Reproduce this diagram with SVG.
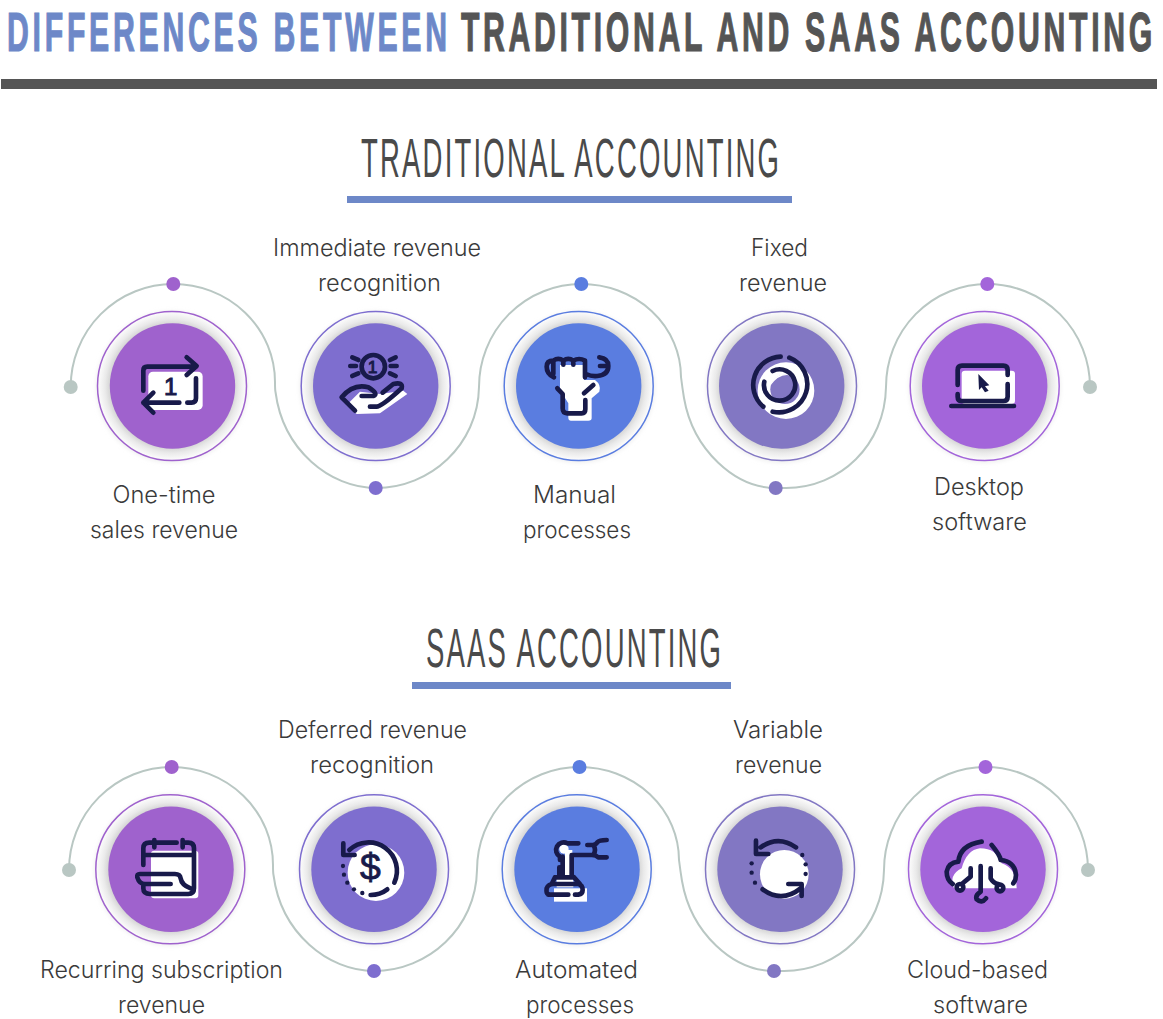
<svg xmlns="http://www.w3.org/2000/svg" width="1163" height="1019" viewBox="0 0 1163 1019">
<defs>
<radialGradient id="halo"><stop offset="0.83" stop-color="#d4d4d4"/><stop offset="0.9" stop-color="#eaeaea"/><stop offset="1" stop-color="#fdfdfd"/></radialGradient>
<filter id="soft" x="-20%" y="-20%" width="140%" height="140%"><feGaussianBlur stdDeviation="2.5"/></filter>
</defs>
<style>
text{font-family:"Inter","Liberation Sans",sans-serif}
.title{font-family:"Liberation Sans",sans-serif;font-weight:700;font-size:56px;stroke-width:1.2}
.sec{font-family:"Liberation Sans",sans-serif;font-size:55px;fill:#4a4a4a}
.lb{font-size:23.5px;font-weight:300;fill:#3a3a3a;text-anchor:middle}
.wire{fill:none;stroke:#b9c7c3;stroke-width:2}
.ring{fill:url(#halo);stroke-width:1.5}
.shadow{fill:#e9e9e9;filter:url(#soft)}
.ic{fill:none;stroke:#181a4a;stroke-width:14;stroke-linecap:round;stroke-linejoin:round}
.wh{fill:#fff}
.nv{fill:#181a4a}
.gl{font-family:"Liberation Sans",sans-serif;fill:#181a4a;text-anchor:middle;stroke:#181a4a}
.end{fill:#b9c7c3}
.p1{fill:#9f62cd}.p2{fill:#7e6ecf}.p3{fill:#5a7de0}.p4{fill:#8277c3}.p5{fill:#a365da}
.s1{stroke:#9f62cd}.s2{stroke:#7e6ecf}.s3{stroke:#5a7de0}.s4{stroke:#8277c3}.s5{stroke:#a365da}
</style>
<rect width="1163" height="1019" fill="#fff"/>
<g id="header">
<text class="title" transform="translate(7 51) scale(.54 1)" fill="#6d88c8" stroke="#6d88c8" textLength="815" lengthAdjust="spacing">DIFFERENCES BETWEEN</text>
<text class="title" transform="translate(461 51) scale(.54 1)" fill="#555" stroke="#555" textLength="1280" lengthAdjust="spacing">TRADITIONAL AND SAAS ACCOUNTING</text>
<rect x="1" y="79" width="1156" height="10" fill="#555"/>
</g>
<g id="section-traditional">
<text class="sec" transform="translate(361 177) scale(.5 1)" textLength="836" lengthAdjust="spacing">TRADITIONAL ACCOUNTING</text>
<rect x="347" y="196" width="445" height="7" fill="#6d88c8"/>
</g>
<g id="section-saas">
<text class="sec" transform="translate(426 667) scale(.5 1)" textLength="590" lengthAdjust="spacing">SAAS ACCOUNTING</text>
<rect x="412" y="682" width="319" height="7" fill="#6d88c8"/>
</g>
<g id="connectors">
<path class="wire" d="M70.7 387A102.6 103 0 0 1 173.3 284A101.7 98 0 0 1 275 382C275 388 275 390 275.500 392C283 450 330 488 376 488C430 488 478 445 479 387A102.300 103 0 0 1 581.300 284A99.700 93 0 0 1 681 377C682 385 683 392 684 398C693 450 735 488 776 488H786C840 488 885 445 886 387A101.300 103 0 0 1 987.300 284A102.700 103 0 0 1 1090 387"/>
<path class="wire" d="M69 870A102.700 103 0 0 1 171.700 767A101.300 98 0 0 1 273 865C273 871 273 873 273.500 875C281 933 328 971 374 971C428 971 476 928 477 870A102.500 103 0 0 1 579.500 767A99.500 93 0 0 1 679 860C680 868 681 875 682 881C691 933 733 971 774 971H784C838 971 883 928 884 870A101.500 103 0 0 1 985.500 767A102.500 103 0 0 1 1088 870"/>
<circle class="end" cx="70.7" cy="387" r="7"/><circle class="end" cx="1090" cy="387" r="7"/>
<circle class="p1" cx="173.3" cy="284" r="7"/><circle class="p2" cx="375.7" cy="488" r="7"/><circle class="p3" cx="581.3" cy="284" r="7"/><circle class="p4" cx="775.7" cy="488" r="7"/><circle class="p5" cx="987.3" cy="284" r="7"/>
<circle class="end" cx="69" cy="870" r="7"/><circle class="end" cx="1088" cy="870" r="7"/>
<circle class="p1" cx="171.7" cy="767" r="7"/><circle class="p2" cx="374" cy="971" r="7"/><circle class="p3" cx="579.5" cy="767" r="7"/><circle class="p4" cx="774" cy="971" r="7"/><circle class="p5" cx="985.5" cy="767" r="7"/>
</g>

<g id="node-one-time">
<circle class="shadow" cx="172" cy="387" r="75"/><circle class="ring s1" cx="172" cy="386" r="74.5"/><circle class="p1" cx="172.5" cy="386" r="62.7"/>
<g transform="translate(60 270) scale(.3333)">
<rect class="wh" x="265" y="305" width="163" height="115" rx="14"/>
<path class="ic" d="M250 362V302Q250 290 262 290H408M380 262L410 288L380 315M358 398H250M280 368L250 398L280 428M382 398H395Q408 398 408 385V325"/>
<text class="gl" x="332" y="374" font-size="72" stroke-width="3">1</text>
</g>
<text class="lb" x="164" y="503" textLength="103" lengthAdjust="spacingAndGlyphs">One-time</text>
<text class="lb" x="164" y="538" textLength="148" lengthAdjust="spacingAndGlyphs">sales revenue</text>
</g>

<g id="node-immediate">
<circle class="shadow" cx="375.7" cy="387" r="75"/><circle class="ring s2" cx="375.7" cy="386" r="74.5"/><circle class="p2" cx="375.7" cy="386" r="62.7"/>
<g transform="translate(60 270) scale(.3333)">
<path class="wh" d="M860 405L900 365L960 372L1030 362L1042 372L960 430L890 432Z"/>
<circle class="ic" cx="940" cy="290" r="35" stroke-width="11"/>
<text class="gl" x="938" y="309" font-size="52" stroke-width="3">1</text>
<path class="ic" stroke-width="11" d="M877 262L895 270M871 288H888M877 318L895 310M1007 262L990 270M1010 288H992M1007 318L990 310"/>
<path class="ic" d="M885 422L845 382Q880 340 925 352Q958 372 940 378H905M930 410H950Q965 410 1025 355Q1030 335 1000 342L968 368"/>
</g>
<text class="lb" x="377" y="256" textLength="208" lengthAdjust="spacingAndGlyphs">Immediate revenue</text>
<text class="lb" x="379.500" y="291" textLength="123" lengthAdjust="spacingAndGlyphs">recognition</text>
</g>

<g id="node-manual">
<circle class="shadow" cx="578.700" cy="387" r="75"/><circle class="ring s3" cx="578.700" cy="386" r="74.5"/><circle class="p3" cx="578.700" cy="386" r="62.7"/>
<g transform="translate(480 270) scale(.3333)">
<path class="wh" d="M240 285H312V330L345 330Q365 345 358 365L335 385V445Q335 452 325 452H272Q265 452 265 445V400L240 360Z"/>
<path class="ic" d="M222 322Q200 312 200 290Q200 272 220 272Q235 262 250 272Q265 262 280 272Q297 262 315 272V322M318 312Q335 320 352 318Q385 315 385 288Q385 265 358 262M360 288H378M232 355L248 372V415Q248 430 262 430H305Q316 430 316 418V390M312 370L340 345M220 272V312M250 272V284M280 272V284"/>
</g>
<text class="lb" x="574.500" y="503" textLength="83" lengthAdjust="spacingAndGlyphs">Manual</text>
<text class="lb" x="577" y="538" textLength="108" lengthAdjust="spacingAndGlyphs">processes</text>
</g>

<g id="node-fixed">
<circle class="shadow" cx="782" cy="387" r="75"/><circle class="ring s4" cx="782" cy="386" r="74.5"/><circle class="p4" cx="781.700" cy="386" r="62.7"/>
<g transform="translate(480 270) scale(.3333)">
<circle class="wh" cx="918" cy="362" r="85"/>
<circle class="p4" cx="915" cy="358" r="44"/>
<path class="wh" d="M870 348A48 48 0 0 1 945 322Q905 300 870 348Z"/>
<path class="ic" d="M902 260A85 85 0 0 0 850 410M928 263A85 85 0 0 1 878 425M878 303A47 47 0 1 1 853 335"/>
</g>
<text class="lb" x="779.500" y="256" textLength="57" lengthAdjust="spacingAndGlyphs">Fixed</text>
<text class="lb" x="783" y="291" textLength="88" lengthAdjust="spacingAndGlyphs">revenue</text>
</g>

<g id="node-desktop">
<circle class="shadow" cx="984.700" cy="387" r="75"/><circle class="ring s5" cx="984.700" cy="386" r="74.5"/><circle class="p5" cx="984.700" cy="386" r="62.7"/>
<g transform="translate(880 270) scale(.3333)">
<rect class="wh" x="245" y="302" width="160" height="100" rx="10"/>
<path class="ic" d="M233 345V300Q233 287 246 287H370Q383 287 383 300V315M383 342V380Q383 393 370 393H245Q233 393 233 380V372M214 408H402"/>
<path class="nv" d="M295 312L328 346L315 349L326 362L315 367L305 352L297 360Z"/>
</g>
<text class="lb" x="979" y="495" textLength="90" lengthAdjust="spacingAndGlyphs">Desktop</text>
<text class="lb" x="979.500" y="530" textLength="95" lengthAdjust="spacingAndGlyphs">software</text>
</g>

<g id="node-recurring">
<circle class="shadow" cx="170.300" cy="870" r="75"/><circle class="ring s1" cx="170.300" cy="869.300" r="74.5"/><circle class="p1" cx="171" cy="869.300" r="62.7"/>
<g transform="translate(60 760) scale(.3333)">
<rect class="wh" x="273" y="272" width="142" height="143" rx="10"/>
<path class="ic" d="M250 315V265Q250 248 268 248H350M283 240V262M368 240V262M368 248H385Q402 248 402 265V385Q402 402 385 402H270Q250 402 250 385V378M250 285H402M392 385Q365 375 362 355Q360 342 345 342H240Q230 342 232 352Q238 372 255 372H332"/>
</g>
<text class="lb" x="161.500" y="978" textLength="243" lengthAdjust="spacingAndGlyphs">Recurring subscription</text>
<text class="lb" x="161.500" y="1013" textLength="87" lengthAdjust="spacingAndGlyphs">revenue</text>
</g>

<g id="node-deferred">
<circle class="shadow" cx="374" cy="870" r="75"/><circle class="ring s2" cx="374" cy="869.300" r="74.5"/><circle class="p2" cx="374" cy="869.300" r="62.7"/>
<g transform="translate(60 760) scale(.3333)">
<circle class="wh" cx="948" cy="338" r="85"/>
<path class="ic" d="M868 270A85 85 0 0 1 1003 368M850 250V285H884M932 405Q960 405 982 388"/>
<circle class="nv" cx="849" cy="318" r="6.500"/><circle class="nv" cx="852" cy="344" r="6.500"/><circle class="nv" cx="862" cy="368" r="6.500"/><circle class="nv" cx="882" cy="388" r="6.500"/><circle class="nv" cx="907" cy="399" r="6.500"/>
<text class="gl" x="931" y="361" font-size="112" stroke-width="2.500">$</text>
</g>
<text class="lb" x="372.500" y="738" textLength="189" lengthAdjust="spacingAndGlyphs">Deferred revenue</text>
<text class="lb" x="372" y="773" textLength="124" lengthAdjust="spacingAndGlyphs">recognition</text>
</g>

<g id="node-automated">
<circle class="shadow" cx="576.700" cy="870" r="75"/><circle class="ring s3" cx="576.700" cy="869.300" r="74.5"/><circle class="p3" cx="577" cy="869.300" r="62.7"/>
<g transform="translate(480 760) scale(.3333)">
<rect class="wh" x="222" y="385" width="99" height="40"/>
<rect class="wh" x="255" y="270" width="22" height="90"/>
<rect class="wh" x="230" y="352" width="50" height="30"/>
<circle class="wh" cx="252" cy="267" r="14"/>
<path class="ic" d="M262 250H295M240 290A18 18 0 0 1 262 250M240 290V300M275 285H338M248 290V345M275 285V345M322 255H340Q346 255 352 247Q358 240 380 240M338 285Q348 285 355 292H380M340 255Q350 270 340 285M238 322V345M225 352H282M225 352L215 372M282 352L300 372M205 402Q198 402 200 385Q205 372 220 372H295Q308 375 308 390Q308 402 295 404H285M205 404H265"/>
</g>
<text class="lb" x="576.500" y="978" textLength="123" lengthAdjust="spacingAndGlyphs">Automated</text>
<text class="lb" x="580" y="1013" textLength="108" lengthAdjust="spacingAndGlyphs">processes</text>
</g>

<g id="node-variable">
<circle class="shadow" cx="780" cy="870" r="75"/><circle class="ring s4" cx="780" cy="869.300" r="74.5"/><circle class="p4" cx="780" cy="869.300" r="62.7"/>
<g transform="translate(480 760) scale(.3333)">
<circle class="wh" cx="913" cy="343" r="73"/>
<path class="ic" d="M948 262Q895 225 842 262M828 242V282H865M848 388Q905 430 962 385M925 372H965V408"/>
<circle class="nv" cx="967" cy="285" r="6.500"/><circle class="nv" cx="977" cy="313" r="6.500"/><circle class="nv" cx="977" cy="342" r="6.500"/><circle class="nv" cx="815" cy="310" r="6.500"/><circle class="nv" cx="815" cy="338" r="6.500"/><circle class="nv" cx="825" cy="368" r="6.500"/>
</g>
<text class="lb" x="778" y="738" textLength="90" lengthAdjust="spacingAndGlyphs">Variable</text>
<text class="lb" x="778.500" y="773" textLength="87" lengthAdjust="spacingAndGlyphs">revenue</text>
</g>

<g id="node-cloud">
<circle class="shadow" cx="983" cy="870" r="75"/><circle class="ring s5" cx="983" cy="869.300" r="74.5"/><circle class="p5" cx="983" cy="869.300" r="62.7"/>
<g transform="translate(880 760) scale(.3333)">
<path class="wh" d="M222 385Q205 345 245 325Q260 270 300 265Q350 265 365 310Q410 325 410 385Z"/>
<path class="ic" d="M218 372Q200 360 200 335Q205 308 235 305Q240 255 305 245M335 255Q360 285 362 300Q405 305 408 345Q408 360 400 370M302 318V395Q285 405 290 418Q305 432 318 415M272 325V350L248 370M332 325V355Q340 370 355 372"/>
<circle class="ic" cx="240" cy="382" r="10"/><circle class="ic" cx="360" cy="384" r="10"/>
</g>
<text class="lb" x="977.500" y="978" textLength="141" lengthAdjust="spacingAndGlyphs">Cloud-based</text>
<text class="lb" x="980.500" y="1013" textLength="95" lengthAdjust="spacingAndGlyphs">software</text>
</g>
</svg>
